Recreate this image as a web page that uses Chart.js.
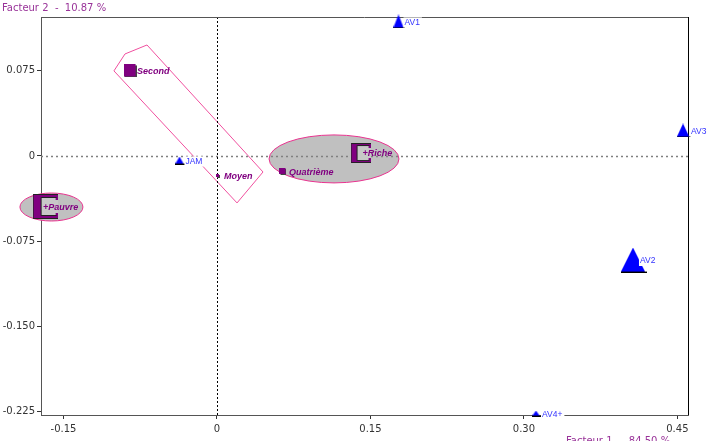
<!DOCTYPE html>
<html>
<head>
<meta charset="utf-8">
<script src="https://cdn.jsdelivr.net/npm/chart.js@4/dist/chart.umd.min.js"></script>
<style>
  html, body { margin: 0; padding: 0; background: #fff; }
  #afc { display: block; }
</style>
</head>
<body>
<canvas id="afc" width="709" height="441"></canvas>
<script>
// Axis ticks and titles
const xTicks = [-0.15, 0, 0.15, 0.30, 0.45];
const xTickLabels = ['-0.15', '0', '0.15', '0.30', '0.45'];
const yTicks = [0.075, 0, -0.075, -0.150, -0.225];
const yTickLabels = ['0.075', '0', '-0.075', '-0.150', '-0.225'];
const xTitle = 'Facteur 1  -  84.50 %';
const yTitle = 'Facteur 2  -  10.87 %';

// Column points (blue triangles)
const colNames = ['AV1', 'AV2', 'AV3', 'AV4+', 'JAM'];
const colX = [0.1784, 0.4076, 0.4565, 0.3128, -0.0357];
const colY = [0.1183, -0.0915, 0.0224, -0.2265, -0.0040];

// Row modalities (purple)
const rowNames = ['Second', 'Moyen', 'Quatrième', '+Riche', '+Pauvre'];
const rowX = [-0.0850, 0.0010, 0.0645, 0.1403, -0.1680];
const rowY = [0.0748, -0.0176, -0.0136, 0.0026, -0.0444];

// Groupings around modalities (data units)
const ellCx = [-0.1618, 0.1144];
const ellCy = [-0.0449, -0.0026];
const ellRx = [0.0308, 0.0635];
const ellRy = [0.0123, 0.0211];
const polyX = [-0.1007, -0.0899, -0.0684, 0.0450, 0.0196];
const polyY = [0.0748, 0.0897, 0.0976, -0.0141, -0.0413];

// ---- styles ----
const BLUE = '#0000ff';
const PURPLE = '#800080';
const colSizes = [[10, 13], [24, 24], [12, 13], [7, 5], [8, 7]];
const colLabelDx = [5, 6, 7, 5, 5];
const rowShapes = ['square', 'square', 'square', 'c', 'c'];
const rowSizes = [12, 3, 6, 20, 25];
const rowLabelDx = [7, 6, 6, 2, -2];

function triangleImg(w, h){
  const c = document.createElement('canvas');
  c.width = w + 2; c.height = h + 1;
  const g = c.getContext('2d');
  g.fillStyle = BLUE;
  g.beginPath();
  g.moveTo(w / 2, 0); g.lineTo(w, h); g.lineTo(0, h); g.closePath();
  g.fill();
  g.fillStyle = '#000';
  g.fillRect(0, h, w + 2, 1);
  return c;
}

function squareImg(s){
  const c = document.createElement('canvas');
  c.width = s + 1; c.height = s + 1;
  const g = c.getContext('2d');
  g.fillStyle = '#444';
  g.fillRect(1, 1, s, s);
  g.fillStyle = PURPLE;
  g.fillRect(0, 0, s, s);
  return c;
}

function cImg(s){
  const c = document.createElement('canvas');
  c.width = s; c.height = s;
  const g = c.getContext('2d');
  const t1 = Math.round(s * 0.36), t2 = Math.max(3, Math.round(s * 0.14));
  g.fillStyle = PURPLE;
  g.fillRect(0, 0, s, s);
  g.fillStyle = '#c8c8c8';
  g.fillRect(t1, t2, s - t1 - 2, s - 2 * t2);
  g.fillRect(s - 2, t2 + 2, 2, s - 2 * t2 - 4);
  g.strokeStyle = '#222';
  g.lineWidth = 1;
  g.beginPath();
  g.moveTo(s, 0.5); g.lineTo(0.5, 0.5); g.lineTo(0.5, s - 0.5); g.lineTo(s, s - 0.5);
  g.moveTo(s - 1, t2 - 0.5); g.lineTo(t1 - 0.5, t2 - 0.5); g.lineTo(t1 - 0.5, s - t2 + 0.5); g.lineTo(s - 1, s - t2 + 0.5);
  g.stroke();
  return c;
}

const colMarkers = colSizes.map(s => triangleImg(s[0], s[1]));
const rowMarkers = rowShapes.map((t, i) => t === 'c' ? cImg(rowSizes[i]) : squareImg(rowSizes[i]));

const decor = {
  id: 'decor',
  beforeDatasetsDraw(chart){
    const {ctx, chartArea: a, scales: {x, y}} = chart;
    ctx.save();
    // groupings
    ctx.lineWidth = 1;
    for (let i = 0; i < ellCx.length; i++){
      const cx = x.getPixelForValue(ellCx[i]), cy = y.getPixelForValue(ellCy[i]);
      const rx = Math.abs(x.getPixelForValue(ellCx[i] + ellRx[i]) - cx);
      const ry = Math.abs(y.getPixelForValue(ellCy[i] + ellRy[i]) - cy);
      ctx.beginPath();
      ctx.ellipse(cx, cy, rx, ry, 0, 0, Math.PI * 2);
      ctx.fillStyle = '#c0c0c0';
      ctx.fill();
      ctx.strokeStyle = '#e8338f';
      ctx.stroke();
    }
    ctx.beginPath();
    polyX.forEach((v, i) => {
      const px = x.getPixelForValue(v), py = y.getPixelForValue(polyY[i]);
      i ? ctx.lineTo(px, py) : ctx.moveTo(px, py);
    });
    ctx.closePath();
    ctx.strokeStyle = '#f0509f';
    ctx.stroke();
    // zero lines
    const x0 = Math.round(x.getPixelForValue(0)) + 0.5;
    const y0 = Math.round(y.getPixelForValue(0)) + 0.5;
    ctx.setLineDash([2, 3]);
    ctx.strokeStyle = '#808080';
    ctx.lineWidth = 1.5;
    ctx.beginPath(); ctx.moveTo(a.left, y0); ctx.lineTo(a.right, y0); ctx.stroke();
    ctx.setLineDash([2, 2]);
    ctx.strokeStyle = '#000';
    ctx.lineWidth = 1;
    ctx.beginPath(); ctx.moveTo(x0, a.top); ctx.lineTo(x0, a.bottom); ctx.stroke();
    ctx.setLineDash([]);
    // top and right frame
    ctx.strokeStyle = '#555';
    ctx.beginPath(); ctx.moveTo(a.left, a.top + 0.5); ctx.lineTo(a.right, a.top + 0.5); ctx.stroke();
    ctx.strokeStyle = '#000';
    ctx.beginPath(); ctx.moveTo(a.right + 0.5, a.top); ctx.lineTo(a.right + 0.5, a.bottom); ctx.stroke();
    ctx.restore();
  },
  afterDatasetsDraw(chart){
    const ctx = chart.ctx;
    ctx.save();
    ctx.textBaseline = 'middle';
    // blue labels on white boxes
    ctx.font = "8.5px 'Liberation Sans'";
    chart.getDatasetMeta(0).data.forEach((pt, i) => {
      const tx = pt.x + colLabelDx[i], ty = pt.y + 1;
      const w = ctx.measureText(colNames[i]).width;
      ctx.fillStyle = '#fff';
      ctx.fillRect(tx - 1, ty - 5, w + 3, 10);
      ctx.fillStyle = '#3333ff';
      ctx.fillText(colNames[i], tx, ty);
    });
    ctx.font = "bold italic 9px 'Liberation Sans'";
    ctx.fillStyle = PURPLE;
    chart.getDatasetMeta(1).data.forEach((pt, i) => {
      ctx.fillText(rowNames[i], pt.x + rowLabelDx[i], pt.y + 1);
    });
    ctx.restore();
  },
  afterDraw(chart){
    const ctx = chart.ctx;
    ctx.save();
    ctx.font = "10px 'DejaVu Sans'";
    ctx.fillStyle = '#993399';
    ctx.textBaseline = 'alphabetic';
    ctx.fillText(yTitle, 2, 11);
    ctx.fillText(xTitle, 566, 444);
    ctx.restore();
  }
};

const tickFont = { family: 'DejaVu Sans', size: 10 };

new Chart(document.getElementById('afc'), {
  type: 'scatter',
  data: {
    datasets: [
      {
        label: 'Colonnes',
        data: colX.map((v, i) => ({ x: v, y: colY[i] })),
        pointStyle: colMarkers,
        pointRadius: 5,
        clip: false
      },
      {
        label: 'Lignes',
        data: rowX.map((v, i) => ({ x: v, y: rowY[i] })),
        pointStyle: rowMarkers,
        pointRadius: 5,
        clip: false
      }
    ]
  },
  options: {
    responsive: false,
    animation: false,
    devicePixelRatio: 1,
    events: [],
    layout: { padding: { top: 17, right: 21, left: 0, bottom: 0 } },
    plugins: { legend: { display: false }, tooltip: { enabled: false } },
    scales: {
      x: {
        type: 'linear', min: -0.172, max: 0.4604,
        afterBuildTicks: s => { s.ticks = xTicks.map(v => ({ value: v })); },
        afterFit: s => { s.height = 26; },
        ticks: { callback: (v, i) => xTickLabels[i], color: '#333', font: tickFont, padding: 4, maxRotation: 0, autoSkip: false },
        grid: { drawOnChartArea: false, tickLength: 4, tickColor: '#333' },
        border: { color: '#555' }
      },
      y: {
        type: 'linear', min: -0.2278, max: 0.1222,
        afterBuildTicks: s => { s.ticks = yTicks.map(v => ({ value: v })); },
        afterFit: s => { s.width = 41; },
        ticks: { callback: (v, i) => yTickLabels[i], color: '#333', font: tickFont, padding: 2, autoSkip: false },
        grid: { drawOnChartArea: false, tickLength: 4, tickColor: '#333' },
        border: { color: '#555' }
      }
    }
  },
  plugins: [decor]
});
</script>
</body>
</html>
